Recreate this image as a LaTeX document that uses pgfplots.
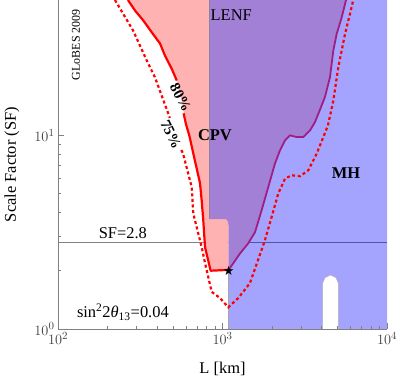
\documentclass[border=0pt]{standalone}
\usepackage{fontspec}
\setmainfont{Liberation Serif}
\newfontfamily\starfont{DejaVu Sans}
\usepackage{pgfplots}
\pgfplotsset{compat=1.18}
\definecolor{cpvpink}{RGB}{255,178,178}
\definecolor{lenfpurple}{RGB}{162,128,214}
\definecolor{cpvline}{RGB}{160,30,128}
\definecolor{axgray}{RGB}{128,128,128}
\begin{document}
\begin{tikzpicture}
\begin{axis}[
  at={(0,0)}, anchor=south west,
  scale only axis, width=329bp, height=329bp,
  xmode=log, ymode=log,
  xmin=100, xmax=10000, ymin=1, ymax=50,
  axis lines*=left,
  axis line style={axgray, line width=0.6bp},
  tick align=inside,
  tick style={axgray, line width=0.5bp},
  major tick length=6bp, minor tick length=3.5bp,
  xtick={100,1000,10000}, ytick={1,10},
  tick label style={font=\fontsize{15}{18}\selectfont, color=black!75},
  xlabel={L [km]}, ylabel={Scale Factor (SF)},
  every axis x label/.style={at={(axis description cs:0.5,-0.12)}, anchor=center, font=\fontsize{16.5}{20}\selectfont},
  every axis y label/.style={at={(axis description cs:-0.14,0.5)}, rotate=90, anchor=center, font=\fontsize{16.5}{20}\selectfont},
  axis on top,
]
% SF = 2.8 line
\addplot[axgray, line width=0.8bp] coordinates {(100,2.8) (10000,2.8)};
% MH region (blue)
\addplot[fill=blue, fill opacity=0.355, draw=none] coordinates {
 (833,50) (833,3.69) (1050,3.69) (1080,3.6) (1090,3.4) (1090,1)
 (4064,1) (4064,1.726) (4198,1.842) (4535,1.90) (4898,1.842) (5058,1.726) (5058,1)
 (10000,1) (10000,50)} -- cycle;
\addplot[gray!70, line width=0.5bp] coordinates {(1090,2.02) (1090,1)};
\addplot[gray!60, line width=0.4bp] coordinates {(4064,1) (4064,1.726) (4198,1.842) (4535,1.90) (4898,1.842) (5058,1.726) (5058,1)};
% CPV only (pink)
\addplot[fill=cpvpink, draw=none] coordinates {
 (266,50) (294,44.1) (330,39.2) (371,34.1) (417,29.8) (447,25.8) (491,22.1)
 (527,19.2) (565,15.1) (600,11.4) (628,10.0) (664,8.08) (730,5.66) (747,4.62)
 (764,3.65) (783,2.65) (847,2.0) (1090,2.02) (1090,3.4) (1080,3.6) (1050,3.69)
 (833,3.69) (833,50)} -- cycle;
% overlap (purple)
\addplot[fill=lenfpurple, draw=none] coordinates {
 (833,50) (833,3.69) (1050,3.69) (1080,3.6) (1090,3.4) (1090,2.02)
 (1278,2.455) (1429,2.76) (1576,3.16) (1730,4.11) (1898,5.41) (2084,7.15)
 (2236,8.37) (2399,9.42) (2571,10.0) (2825,9.8) (3098,9.8) (3403,10.6)
 (3650,11.7) (3823,12.9) (4198,15.8) (4503,20.0) (4716,27.4) (4943,33.4)
 (5305,40.7) (5636,50)} -- cycle;
\addplot[gray!60!lenfpurple, line width=0.5bp] coordinates {(833,50) (833,3.69)};
% CPV right boundary
\addplot[cpvline, line width=1.8bp] coordinates {
 (1090,2.02) (1278,2.455) (1429,2.76) (1576,3.16) (1730,4.11) (1898,5.41) (2084,7.15)
 (2236,8.37) (2399,9.42) (2571,10.0) (2825,9.8) (3098,9.8) (3403,10.6)
 (3650,11.7) (3823,12.9) (4198,15.8) (4503,20.0) (4716,27.4) (4943,33.4)
 (5305,40.7) (5636,50)};
% 80% line (solid red), broken at label
\addplot[red, line width=2.2bp, line join=round] coordinates {
 (266,50) (294,44.1) (330,39.2) (371,34.1) (417,29.8) (447,25.8) (491,22.1) (527,19.2)};
\addplot[red, line width=2.2bp, line join=round] coordinates {
 (580,13.0) (600,11.4) (628,10.0) (664,8.08) (730,5.66) (747,4.62)
 (764,3.65) (783,2.65) (847,2.0) (1090,2.02)};
% 75% line (dotted red), broken at label
\addplot[red, line width=2.2bp, dash pattern=on 3bp off 2.6bp] coordinates {
 (222,50) (286,34.8) (346,24.4) (389,19.9) (460,13.5) (478,12.3)};
\addplot[red, line width=2.2bp, dash pattern=on 3bp off 2.6bp] coordinates {
 (562,8.4) (575,8.08) (650,5.40) (664,3.96) (747,2.65) (783,2.19) (859,1.556) (966,1.445)
 (1084,1.294) (1247,1.445) (1468,1.726) (1644,2.27) (1811,2.876) (1990,3.79)
 (2183,5.01) (2399,5.98) (2635,6.22) (2958,6.15) (3324,6.60) (3738,8.05)
 (4101,9.8) (4375,11.26) (4716,15.1) (5058,22.5) (5556,33.4) (5957,42.4) (6237,50)};
% star
\addplot[black, only marks, mark=text, text mark={\starfont\fontsize{13}{13}\selectfont ★}] coordinates {(1090,2.0)};
% labels
\node[font=\fontsize{16.5}{20}\selectfont, anchor=west, inner sep=0pt] at (axis cs:845,41.6) {LENF};
\node[font=\fontsize{16.5}{20}\selectfont\bfseries] at (axis cs:900,10.0) {CPV};
\node[font=\fontsize{16.5}{20}\selectfont\bfseries] at (axis cs:5636,6.37) {MH};
\node[font=\fontsize{15}{18}\selectfont\bfseries, rotate=-62, inner sep=0pt] at (axis cs:556,15.7) {80\%};
\node[font=\fontsize{15}{18}\selectfont\bfseries, rotate=-64, inner sep=0pt] at (axis cs:486,10.1) {75\%};
\node[font=\fontsize{12}{14}\selectfont, rotate=90] at (axis cs:128.6,29.4) {GLoBES 2009};
\node[font=\fontsize{16.5}{20}\selectfont] at (axis cs:248,3.12) {SF=2.8};
\node[font=\fontsize{16.5}{20}\selectfont] at (axis cs:248,1.22) {sin\textsuperscript{2}2\textit{θ}\textsubscript{13}=0.04};
\end{axis}
\pgfresetboundingbox
\path (-58bp,-50bp) rectangle (344bp,329bp);
\end{tikzpicture}
\end{document}
